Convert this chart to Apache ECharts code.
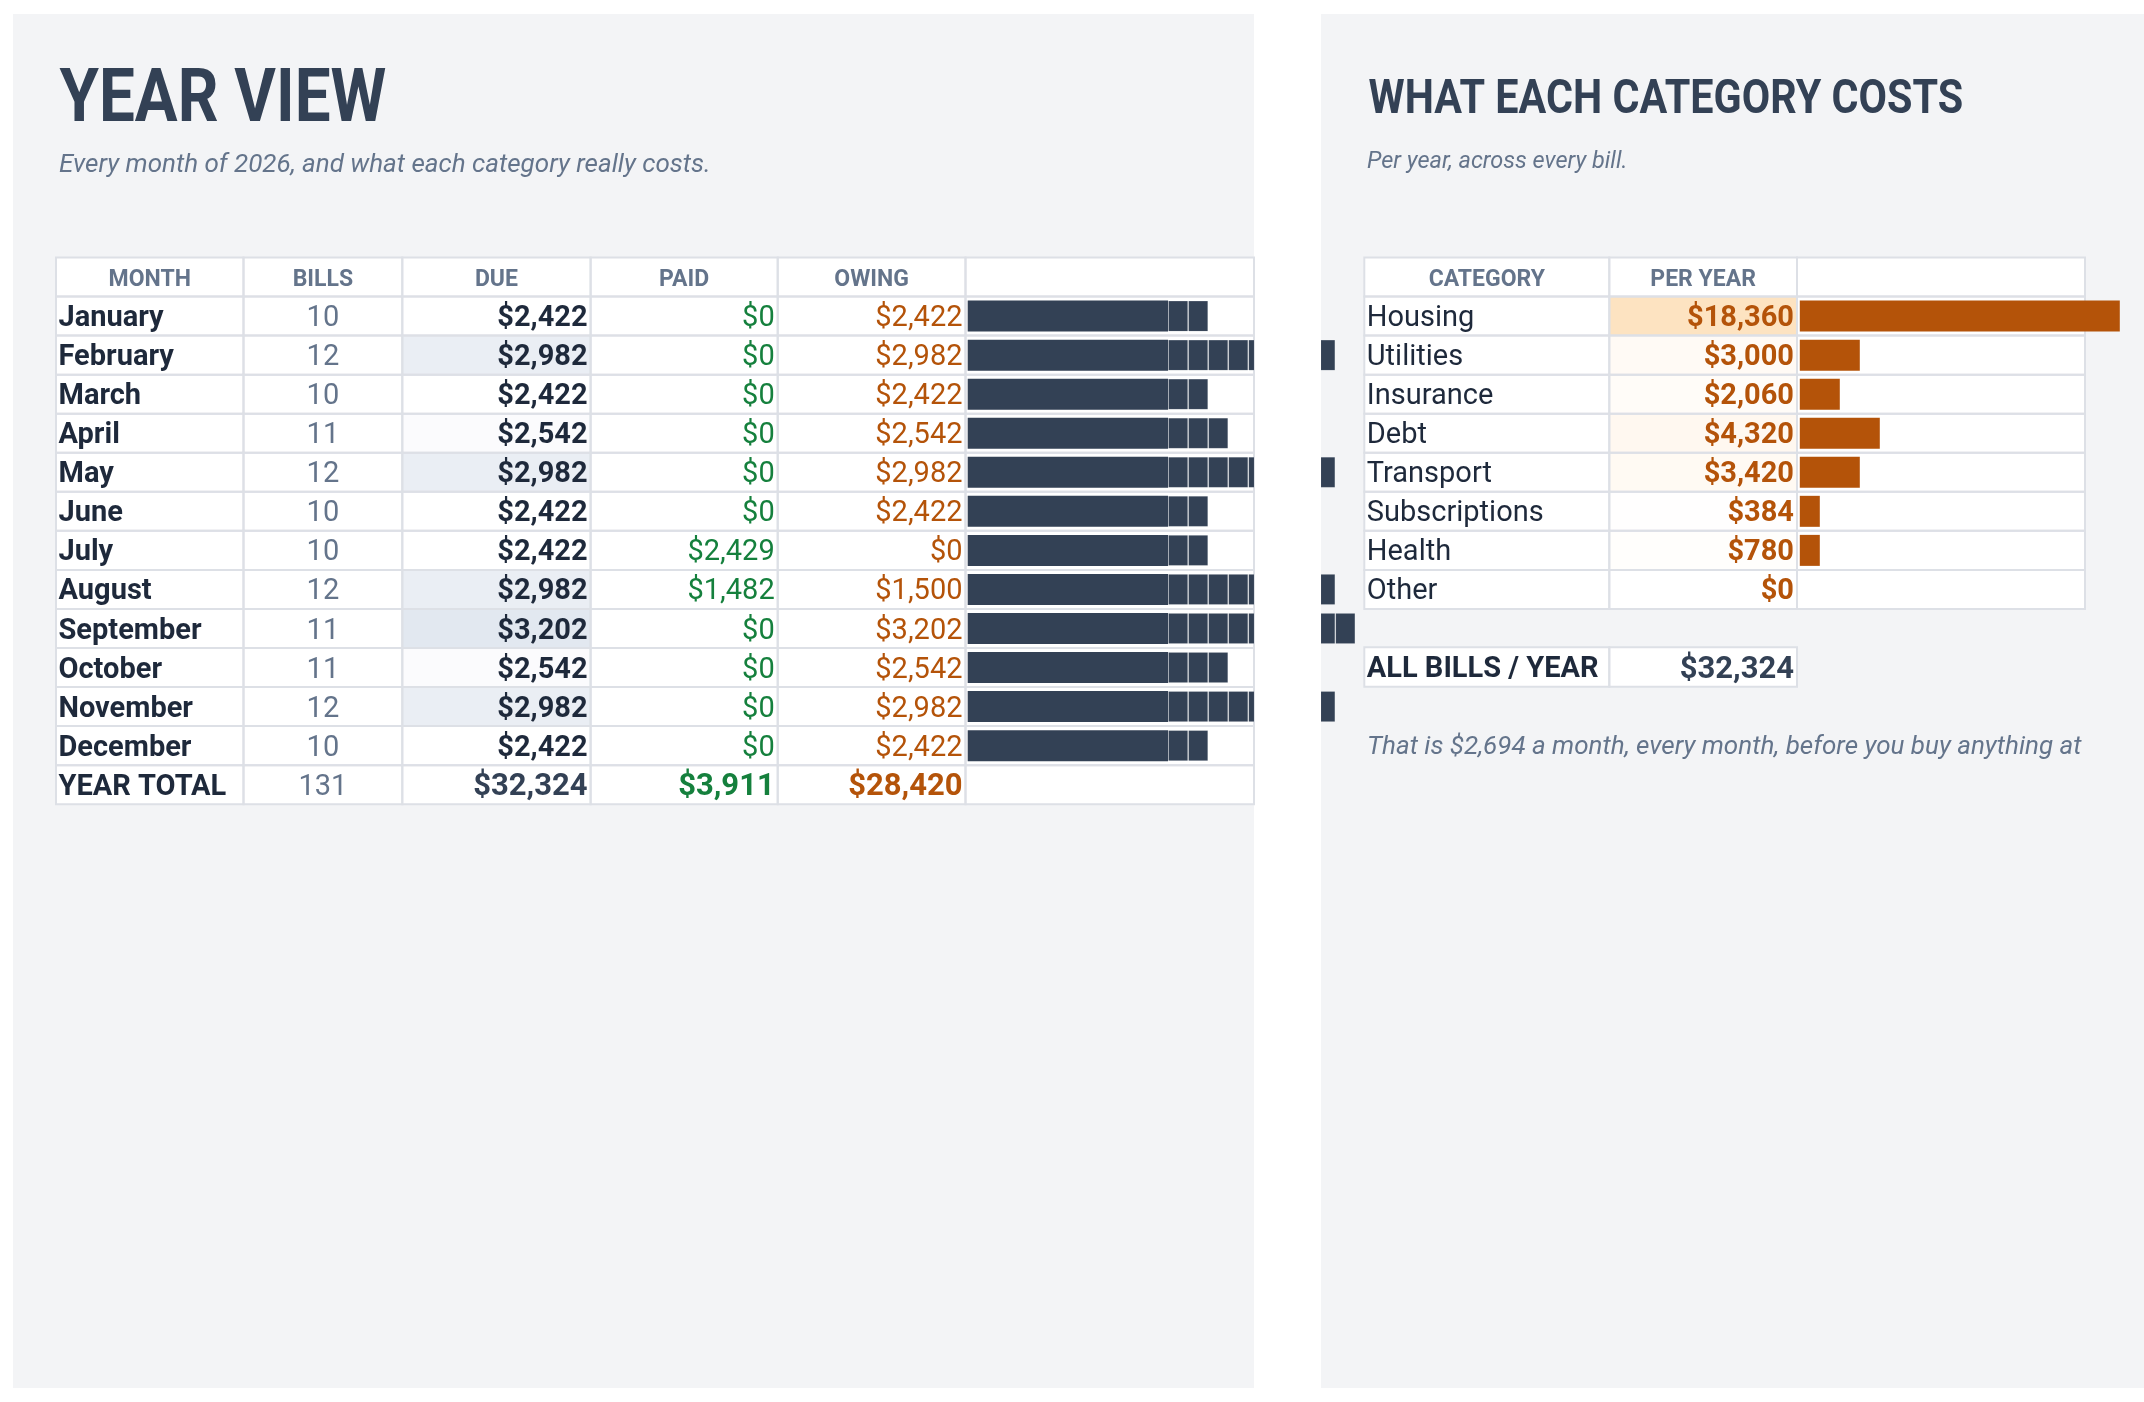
<!DOCTYPE html>
<html>
<head>
<meta charset="utf-8">
<title>Year view</title>
<script src="https://cdn.jsdelivr.net/npm/echarts@6.0.0/dist/echarts.min.js"></script>
<style>
  html, body { margin: 0; padding: 0; background: #ffffff; }
  #main { width: 2144px; height: 1402px; }
</style>
</head>
<body>
<div id="main"></div>
<script>
// month table
var months = ['January', 'February', 'March', 'April', 'May', 'June', 'July',
  'August', 'September', 'October', 'November', 'December'];
var bills = [10, 12, 10, 11, 12, 10, 10, 12, 11, 11, 12, 10];
var due = [2422, 2982, 2422, 2542, 2982, 2422, 2422, 2982, 3202, 2542, 2982, 2422];
var paid = [0, 0, 0, 0, 0, 0, 2429, 1482, 0, 0, 0, 0];
var owing = [2422, 2982, 2422, 2542, 2982, 2422, 0, 1500, 3202, 2542, 2982, 2422];
// length of the in-cell bar, in blocks
var dueBlocks = [12, 15, 12, 13, 15, 12, 12, 15, 16, 13, 15, 12];

// category table
var categories = ['Housing', 'Utilities', 'Insurance', 'Debt', 'Transport',
  'Subscriptions', 'Health', 'Other'];
var perYear = [18360, 3000, 2060, 4320, 3420, 384, 780, 0];
var catBlocks = [16, 3, 2, 4, 3, 1, 1, 0];

var leftHeaders = ['MONTH', 'BILLS', 'DUE', 'PAID', 'OWING', ''];
var rightHeaders = ['CATEGORY', 'PER YEAR', ''];

// layout (px)
var ROW_H = 39.05;
var TABLE_TOP = 257.5;
var LEFT_X = 56;
var leftEdges = [0, 187.5, 346.3, 534.6, 721.7, 909.5, 1198];
var RIGHT_X = 1364.3;
var rightEdges = [0, 245, 432.7, 720.7];
var BLOCK = 20.04;
var LEFT_BAR_X = 967.7;
var LEFT_BAR_W = 1254 - LEFT_BAR_X;
var LEFT_VISIBLE = LEFT_BAR_W / BLOCK;
var SOLID_BLOCKS = 10;   // the first blocks merge into one run

var INK = '#1e293b';
var SLATE = '#334155';
var GREY = '#64748b';
var GREEN = '#15803d';
var ORANGE = '#b45309';
var LINE = '#dde0e6';

function money(v) {
  return '$' + v.toLocaleString('en-US');
}
function sum(a) {
  return a.reduce(function (s, v) { return s + v; }, 0);
}
function mix(c1, c2, t) {
  var a = [parseInt(c1.slice(1, 3), 16), parseInt(c1.slice(3, 5), 16), parseInt(c1.slice(5, 7), 16)];
  var b = [parseInt(c2.slice(1, 3), 16), parseInt(c2.slice(3, 5), 16), parseInt(c2.slice(5, 7), 16)];
  return 'rgb(' + a.map(function (v, i) { return Math.round(v + (b[i] - v) * t); }).join(',') + ')';
}

function cell(text, align, weight, size, color, bg) {
  return { text: text, align: align, weight: weight, size: size, color: color, bg: bg };
}
function headerRow(list) {
  return list.map(function (h) { return cell(h, 'center', 'bold', 23, GREY); });
}

// rows of the month table
var dueMin = Math.min.apply(null, due), dueMax = Math.max.apply(null, due);
var leftRows = [headerRow(leftHeaders)];
months.forEach(function (m, i) {
  leftRows.push([
    cell(m, 'left', 'bold', 29, INK),
    cell(String(bills[i]), 'center', 'normal', 29, GREY),
    cell(money(due[i]), 'right', 'bold', 29, INK, mix('#ffffff', '#e2e8f0', (due[i] - dueMin) / (dueMax - dueMin))),
    cell(money(paid[i]), 'right', 'normal', 29, GREEN),
    cell(money(owing[i]), 'right', 'normal', 29, ORANGE),
    cell('', 'left')
  ]);
});
leftRows.push([
  cell('YEAR TOTAL', 'left', 'bold', 29, INK),
  cell(String(sum(bills)), 'center', 'normal', 29, GREY),
  cell(money(sum(due)), 'right', 'bold', 31, SLATE),
  cell(money(sum(paid)), 'right', 'bold', 31, GREEN),
  cell(money(sum(owing)), 'right', 'bold', 31, ORANGE),
  cell('', 'left')
]);
var leftKeys = ['head'].concat(months, ['total']);

// rows of the category table
var catMax = Math.max.apply(null, perYear);
var rightRows = [headerRow(rightHeaders)];
categories.forEach(function (c, i) {
  rightRows.push([
    cell(c, 'left', 'normal', 29, INK),
    cell(money(perYear[i]), 'right', 'bold', 29, ORANGE, mix('#ffffff', '#fde3c1', perYear[i] / catMax)),
    cell('', 'left')
  ]);
});
var rightKeys = ['head'].concat(categories);

var allRows = [[
  cell('ALL BILLS / YEAR', 'left', 'bold', 29, INK),
  cell(money(sum(perYear)), 'right', 'bold', 31, SLATE)
]];

function tableRenderer(rows, edges) {
  return function (params, api) {
    var r = api.value(1);
    var center = api.coord([0, r]);
    var h = api.size([0, 1])[1];
    var top = center[1] - h / 2;
    var children = [];
    rows[r].forEach(function (c, ci) {
      var x0 = api.coord([edges[ci], r])[0];
      var x1 = api.coord([edges[ci + 1], r])[0];
      children.push({
        type: 'rect', z2: 0,
        shape: { x: x0, y: top, width: x1 - x0, height: h },
        style: { fill: c.bg || '#ffffff' }
      });
      children.push({
        type: 'rect', z2: 1,
        shape: { x: x0, y: top, width: x1 - x0, height: h },
        style: { fill: 'none', stroke: LINE, lineWidth: 2 }
      });
      if (c.text) {
        var tx = c.align === 'left' ? x0 + 2.5 : c.align === 'right' ? x1 - 3 : (x0 + x1) / 2;
        children.push({
          type: 'text', z2: 2,
          style: {
            text: c.text, x: tx, y: center[1] + 2.8,
            fill: c.color,
            font: c.weight + ' ' + c.size + 'px Roboto',
            align: c.align, textAlign: c.align,
            verticalAlign: 'middle', textVerticalAlign: 'middle'
          }
        });
      }
    });
    return { type: 'group', children: children };
  };
}

function rowIndexData(rows) {
  return rows.map(function (r, i) { return [0, i]; });
}

var series = [
  {
    type: 'custom', xAxisIndex: 0, yAxisIndex: 0, z: 2, silent: true,
    renderItem: tableRenderer(leftRows, leftEdges), data: rowIndexData(leftRows)
  },
  {
    type: 'custom', xAxisIndex: 3, yAxisIndex: 3, z: 2, silent: true,
    renderItem: tableRenderer(rightRows, rightEdges), data: rowIndexData(rightRows)
  },
  {
    type: 'custom', xAxisIndex: 5, yAxisIndex: 5, z: 2, silent: true,
    renderItem: tableRenderer(allRows, rightEdges), data: rowIndexData(allRows)
  },
  {
    type: 'bar', xAxisIndex: 4, yAxisIndex: 4, z: 3, silent: true, barWidth: 31,
    itemStyle: { color: ORANGE },
    data: ['-'].concat(catBlocks.map(function (b) { return b > 0 ? b : '-'; }))
  }
];

// the month bar is a row of blocks; what does not fit runs on into the next panel
[[1, 'due'], [2, 'dueOver']].forEach(function (g) {
  series.push({
    type: 'bar', xAxisIndex: g[0], yAxisIndex: g[0], stack: g[1], z: 3,
    silent: true, barWidth: 31,
    itemStyle: { color: SLATE },
    data: ['-'].concat(dueBlocks.map(function (b) { return Math.min(b, SOLID_BLOCKS); }), ['-'])
  });
  for (var k = SOLID_BLOCKS; k < 16; k++) {
    series.push({
      type: 'bar', xAxisIndex: g[0], yAxisIndex: g[0], stack: g[1], z: 3,
      silent: true, barWidth: 31,
      itemStyle: { color: SLATE, borderColor: 'rgba(255,255,255,0.07)', borderWidth: 1 },
      data: ['-'].concat(dueBlocks.map(function (b) { return b > k ? 1 : '-'; }), ['-'])
    });
  }
});

function grid(left, top, width, height) {
  return { left: left, top: top, width: width, height: height, outerBoundsMode: 'none' };
}
function hiddenValue(gi, min, max) {
  return { gridIndex: gi, type: 'value', min: min, max: max, show: false };
}
function hiddenCat(gi, data) {
  return { gridIndex: gi, type: 'category', data: data, inverse: true, show: false };
}

var option = {
  animation: false,
  backgroundColor: '#ffffff',
  graphic: [
    { type: 'rect', z: -10, shape: { x: 13, y: 14, width: 1241, height: 1374 }, style: { fill: '#f3f4f6' } },
    { type: 'rect', z: -10, shape: { x: 1321, y: 14, width: 823, height: 1374 }, style: { fill: '#f3f4f6' } },
    {
      type: 'text', x: 59.5, y: 102, scaleX: 0.85,
      style: { text: 'YEAR VIEW', font: 'bold 75px Roboto', fill: SLATE, verticalAlign: 'middle', textVerticalAlign: 'middle' }
    },
    {
      type: 'text', x: 59, y: 165,
      style: { text: 'Every month of 2026, and what each category really costs.', font: 'italic 26px Roboto', fill: GREY, verticalAlign: 'middle', textVerticalAlign: 'middle' }
    },
    {
      type: 'text', x: 1368.5, y: 100.5, scaleX: 0.843,
      style: { text: 'WHAT EACH CATEGORY COSTS', font: 'bold 49px Roboto', fill: SLATE, verticalAlign: 'middle', textVerticalAlign: 'middle' }
    },
    {
      type: 'text', x: 1367, y: 162.5,
      style: { text: 'Per year, across every bill.', font: 'italic 23.5px Roboto', fill: GREY, verticalAlign: 'middle', textVerticalAlign: 'middle' }
    },
    {
      type: 'text', x: 1367, y: 747.5,
      style: { text: 'That is ' + money(Math.round(sum(perYear) / 12)) + ' a month, every month, before you buy anything at', font: 'italic 26px Roboto', fill: GREY, verticalAlign: 'middle', textVerticalAlign: 'middle' }
    }
  ],
  grid: [
    grid(LEFT_X, TABLE_TOP, leftEdges[leftEdges.length - 1], ROW_H * leftRows.length),
    grid(LEFT_BAR_X, TABLE_TOP, LEFT_BAR_W, ROW_H * leftRows.length),
    grid(1321, TABLE_TOP, 60, ROW_H * leftRows.length),
    grid(RIGHT_X, TABLE_TOP, rightEdges[rightEdges.length - 1], ROW_H * rightRows.length),
    grid(1799.8, TABLE_TOP, 340, ROW_H * rightRows.length),
    grid(RIGHT_X, 647.3, rightEdges[2], 39.4)
  ],
  xAxis: [
    hiddenValue(0, 0, leftEdges[leftEdges.length - 1]),
    hiddenValue(1, 0, LEFT_VISIBLE),
    hiddenValue(2, LEFT_VISIBLE, LEFT_VISIBLE + 60 / BLOCK),
    hiddenValue(3, 0, rightEdges[rightEdges.length - 1]),
    hiddenValue(4, 0, 340 / 20),
    hiddenValue(5, 0, rightEdges[2])
  ],
  yAxis: [
    hiddenCat(0, leftKeys),
    hiddenCat(1, leftKeys),
    hiddenCat(2, leftKeys),
    hiddenCat(3, rightKeys),
    hiddenCat(4, rightKeys),
    hiddenCat(5, ['all'])
  ],
  series: series
};

var chart = echarts.init(document.getElementById('main'));
chart.setOption(option);
</script>
</body>
</html>
